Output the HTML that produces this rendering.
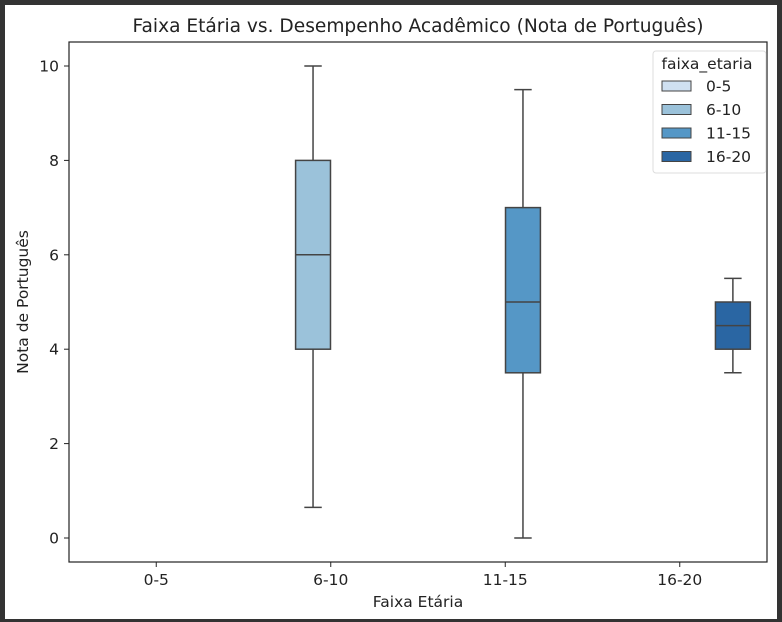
<!DOCTYPE html>
<html><head><meta charset="utf-8"><style>
body{margin:0;background:#333;}
svg{display:block;font-family:"DejaVu Sans","Liberation Sans",sans-serif;}
</style></head><body>
<svg width="782" height="622" viewBox="0 0 782 622">
<rect x="0" y="0" width="782" height="622" fill="#333"/>
<rect x="5" y="5" width="772" height="614" fill="#fff"/>
<text x="418" y="32" font-size="18.6" text-anchor="middle" fill="#222">Faixa Etária vs. Desempenho Acadêmico (Nota de Português)</text>
<g id="plot"></g>
<text x="418" y="607" font-size="15.5" text-anchor="middle" fill="#222">Faixa Etária</text>
<text transform="translate(28,302) rotate(-90)" font-size="15.5" text-anchor="middle" fill="#222">Nota de Português</text>
</svg>
<script>
const categories=["0-5","6-10","11-15","16-20"];
const colors=["#cfe0f1","#9bc2da","#5597c6","#2a66a3"];
const whiskLow=[null,0.65,0,3.5];
const q1=[null,4,3.5,4];
const medians=[null,6,5,4.5];
const q3=[null,8,7,5];
const whiskHigh=[null,10,9.5,5.5];
const yTicks=[0,2,4,6,8,10];
const L=69,R=767,T=42,B=562;
const band=(R-L)/categories.length;
const xC=i=>L+(i+0.5)*band;
const y=v=>538-v*47.2;
const NS="http://www.w3.org/2000/svg";
const g=document.getElementById('plot');
function mk(t,a){const e=document.createElementNS(NS,t);for(const k in a)e.setAttribute(k,a[k]);g.appendChild(e);return e;}
const frame=mk('rect',{x:L,y:T,width:R-L,height:B-T,fill:'none',stroke:'#222','stroke-width':1.2});


yTicks.forEach(v=>{
 const t=mk('line',{x1:L-5,x2:L,y1:y(v),y2:y(v),stroke:'#222'});
 
 
 const tx=mk('text',{x:L-10,y:y(v)+5.5,'font-size':15.5,'text-anchor':'end',fill:'#222'});tx.textContent=v;
 
 
});
categories.forEach((c,i)=>{
 const t=mk('line',{x1:xC(i),x2:xC(i),y1:B,y2:B+5,stroke:'#222'});
 
 
 const tx=mk('text',{x:xC(i),y:B+23,'font-size':15.5,'text-anchor':'middle',fill:'#222'});tx.textContent=c;
 
 
 if(q1[i]===null)return;
 const cx=xC(i)+(i-1.5)*0.203*band, w=0.2*band;
 const s='#444';
 const w1=mk('line',{x1:cx,x2:cx,y1:y(whiskLow[i]),y2:y(q1[i]),stroke:s,'stroke-width':1.5});
 
 
 const w2=mk('line',{x1:cx,x2:cx,y1:y(q3[i]),y2:y(whiskHigh[i]),stroke:s,'stroke-width':1.5});
 
 
 [whiskLow[i],whiskHigh[i]].forEach(v=>{const cap=mk('line',{x1:cx-w/4,x2:cx+w/4,y1:y(v),y2:y(v),stroke:s,'stroke-width':1.5});
  
  });
 const b=mk('rect',{x:cx-w/2,y:y(q3[i]),width:w,height:y(q1[i])-y(q3[i]),fill:colors[i],stroke:s,'stroke-width':1.5});
 
 
 const m=mk('line',{x1:cx-w/2,x2:cx+w/2,y1:y(medians[i]),y2:y(medians[i]),stroke:s,'stroke-width':1.5});
 
 
});
const lg=mk('rect',{x:653,y:51,width:113,height:122,rx:3,fill:'#fff',stroke:'#ddd'});


const lt=mk('text',{x:707,y:69,'font-size':15.5,'text-anchor':'middle',fill:'#222'});lt.textContent='faixa_etaria';


categories.forEach((c,i)=>{
 const yy=86+i*23.5;
 const sw=mk('rect',{x:662,y:yy-5,width:29,height:10,fill:colors[i],stroke:'#444','stroke-width':1});
 
 
 const t=mk('text',{x:706,y:yy+5.5,'font-size':15.5,fill:'#222'});t.textContent=c;
 
 
});
</script>
</body></html>
